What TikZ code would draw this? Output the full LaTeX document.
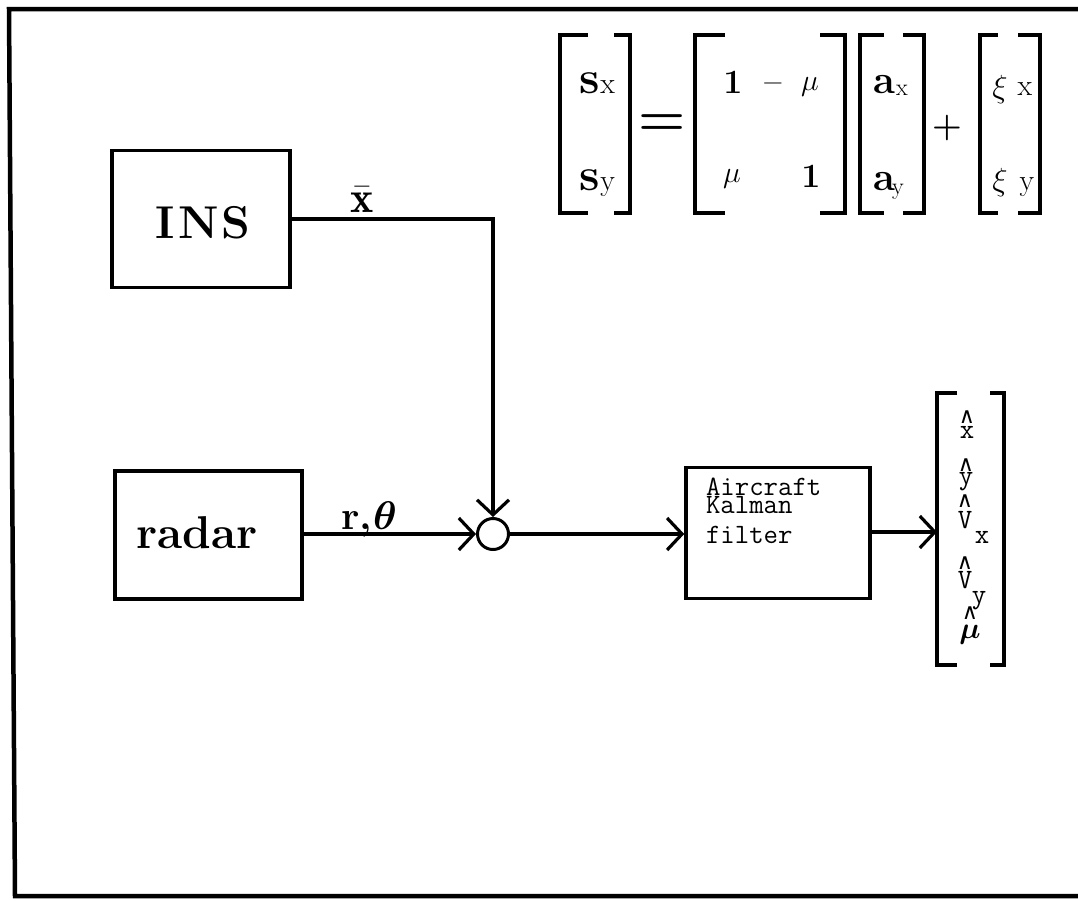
\RequirePackage{fix-cm}
\documentclass[tikz,border=0pt]{standalone}
\usepackage{amsmath}
\usepackage{fontspec}
\newfontfamily\djv{DejaVu Sans}
\usetikzlibrary{arrows.meta}
\begin{document}
\begin{tikzpicture}[x=1pt,y=-1pt,
  blk/.style={draw, line width=3.5pt, inner sep=0pt},
  arr/.style={line width=3.2pt, -{Straight Barb[length=15pt,width=32pt]}},
  brk/.style={line width=4pt, line join=miter},
  txt/.style={inner sep=0pt, outer sep=0pt},
  big/.style={txt, font=\fontsize{46}{46}\selectfont\bfseries},
  tt/.style={txt, font=\ttfamily\fontsize{28}{28}\selectfont},
  ott/.style={txt, font=\ttfamily\fontsize{28}{28}\selectfont},
  hat/.style={txt, font=\djv\fontsize{22}{22}\selectfont}]
\useasboundingbox (0,0) rectangle (1078,900);
% frame
\draw[line width=4.5pt] (1078,9) -- (9,9) -- (15,896) -- (1078,896);

% blocks
\node[blk, minimum width=178pt, minimum height=137pt] (ins) at (201,219) {};
\node[big, anchor=base] (inslbl) at (203,238) {I\kern3pt N\kern3pt S};
\node[blk, minimum width=187pt, minimum height=128pt] (radar) at (208.5,535) {};
\node[big, anchor=base] (radarlbl) at (197,548) {radar};
\node[draw, circle, line width=3pt, minimum size=31pt, inner sep=0pt] (sum) at (493,534) {};
\node[blk, minimum width=184pt, minimum height=131pt] (kal) at (778,533) {};
\node[tt, anchor=base west] (k1) at (706,495) {Aircraft};
\node[tt, anchor=base west] (k2) at (706,513) {Kalman};
\node[tt, anchor=base west] (k3) at (706,543) {filter};

% connectors
\draw[arr] (ins.east) -| (sum.north);
\draw[arr] (radar.east |- sum.west) -- (sum.west);
\draw[arr] (sum.east) -- (kal.west |- sum.east);
\coordinate (outv) at (937,532);
\draw[arr] (kal.east |- outv) -- (outv);

% labels
\node[txt, anchor=base, font=\fontsize{44}{44}\selectfont] (xbar) at (362,212) {$\bar{\mathbf{x}}$};
\node[txt, anchor=base, font=\fontsize{40}{40}\selectfont\bfseries] (rth) at (369,529) {r,\kern1pt$\boldsymbol{\theta}$};

% equation brackets
\draw[brk] (588,35) -| (560,213) -- (588,213);
\draw[brk] (614,35) -| (630,213) -- (614,213);
\draw[brk] (725,35) -| (695,213) -- (725,213);
\draw[brk] (820,35) -| (845,213) -- (820,213);
\draw[brk] (884,35) -| (860,213) -- (884,213);
\draw[brk] (903,35) -| (924,213) -- (903,213);
\draw[brk] (998,35) -| (980,213) -- (998,213);
\draw[brk] (1018,35) -| (1040,213) -- (1018,213);

% equation entries
\node[txt, anchor=base west] (sx) at (579,93) {\fontsize{46}{46}\selectfont\bfseries s\kern1pt{\mdseries\fontsize{30}{30}\selectfont x}};
\node[txt, anchor=base west] (sy) at (579,190) {\fontsize{46}{46}\selectfont\bfseries s\kern1pt{\mdseries\fontsize{30}{30}\selectfont y}};
\node[txt, font=\fontsize{54}{54}\selectfont] (eqsign) at (662,125) {$\boldsymbol{=}$};
\node[txt, anchor=base, font=\fontsize{34}{34}\selectfont\bfseries] (m11) at (733,93) {1};
\node[txt, anchor=base, font=\fontsize{28}{28}\selectfont] (m12a) at (773,90) {−};
\node[txt, anchor=base, font=\fontsize{30}{30}\selectfont] (m12) at (810,90) {$\mu$};
\node[txt, anchor=base, font=\fontsize{30}{30}\selectfont] (m21) at (732,182) {$\mu$};
\node[txt, anchor=base, font=\fontsize{34}{34}\selectfont\bfseries] (m22) at (811,187) {1};
\node[txt, anchor=base, font=\fontsize{40}{40}\selectfont\bfseries] (ax) at (884,93) {a};
\node[txt, anchor=base, font=\fontsize{24}{24}\selectfont] (axs) at (902,95) {x};
\node[txt, anchor=base, font=\fontsize{40}{40}\selectfont\bfseries] (ay) at (884,190) {a};
\node[txt, anchor=base, font=\fontsize{24}{24}\selectfont] (ays) at (898,194) {y};
\node[txt, font=\fontsize{34}{34}\selectfont] (plus) at (947,128) {$\boldsymbol{+}$};
\node[txt, anchor=base, font=\fontsize{32}{32}\selectfont] (xix) at (1000,97) {$\xi$};
\node[txt, anchor=base, font=\fontsize{30}{30}\selectfont] (xixs) at (1025,95) {x};
\node[txt, anchor=base, font=\fontsize{32}{32}\selectfont] (xiy) at (1000,190) {$\xi$};
\node[txt, anchor=base, font=\fontsize{30}{30}\selectfont] (xiys) at (1027,190) {y};

% output vector
\draw[brk] (957,393) -| (937,665) -- (957,665);
\draw[brk] (990,393) -| (1004,665) -- (990,665);
\node[hat, anchor=base] (o1h) at (967,423) {∧};
\node[ott, anchor=base] (o1) at (967,438) {x};
\node[hat, anchor=base] (o2h) at (966,471) {∧};
\node[ott, anchor=base] (o2) at (966,484) {y};
\node[hat, anchor=base] (o3h) at (965,507) {∧};
\node[ott, anchor=base] (o3) at (965,528) {V};
\node[ott, anchor=base] (o3s) at (982,543) {x};
\node[hat, anchor=base] (o4h) at (965,569) {∧};
\node[ott, anchor=base] (o4) at (965,588) {V};
\node[ott, anchor=base] (o4s) at (979,603) {y};
\node[hat, anchor=base] (o5h) at (970,619) {∧};
\node[txt, anchor=base, font=\fontsize{30}{30}\selectfont] (o5) at (970,638) {$\boldsymbol{\mu}$};
\end{tikzpicture}
\end{document}
